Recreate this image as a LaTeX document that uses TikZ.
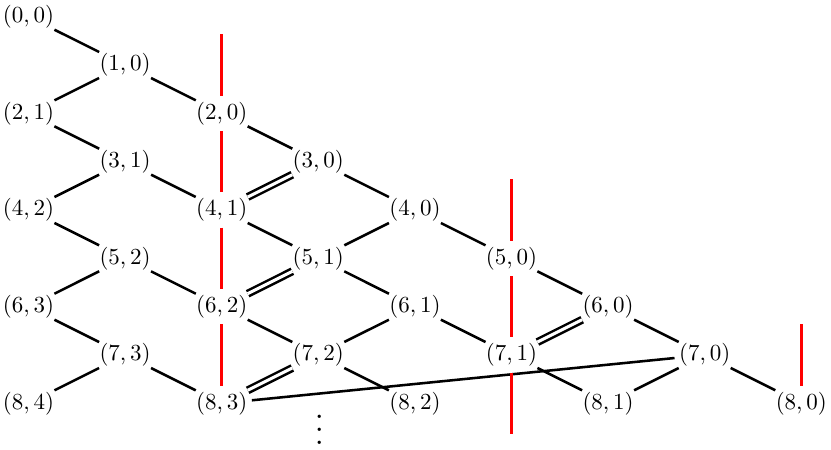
\documentclass[tikz,border=0pt]{standalone}
\begin{document}
\begin{tikzpicture}[x=0.4348pt,y=-0.4348pt,
  pt/.style={rectangle,inner xsep=1.8pt,inner ysep=0.45pt},
  ln/.style={line width=1.1pt},
  dbl/.style={line width=1.1pt,double,double distance=1.3pt},
  redln/.style={red,line width=1.1pt,shorten <=7.7pt,shorten >=7.7pt}]
\useasboundingbox (0,0) rectangle (831,449);
% nodes (n,k): column n-2k, row n
\node[pt] (n00) at (28.5,16.7) {$(0,0)$};
\node[pt] (n10) at (125.1,65.0) {$(1,0)$};
\node[pt] (n21) at (28.5,113.3) {$(2,1)$};
\node[pt] (n20) at (221.7,113.3) {$(2,0)$};
\node[pt] (n31) at (125.1,161.7) {$(3,1)$};
\node[pt] (n30) at (318.3,161.7) {$(3,0)$};
\node[pt] (n42) at (28.5,210.0) {$(4,2)$};
\node[pt] (n41) at (221.7,210.0) {$(4,1)$};
\node[pt] (n40) at (414.9,210.0) {$(4,0)$};
\node[pt] (n52) at (125.1,258.3) {$(5,2)$};
\node[pt] (n51) at (318.3,258.3) {$(5,1)$};
\node[pt] (n50) at (511.5,258.3) {$(5,0)$};
\node[pt] (n63) at (28.5,306.7) {$(6,3)$};
\node[pt] (n62) at (221.7,306.7) {$(6,2)$};
\node[pt] (n61) at (414.9,306.7) {$(6,1)$};
\node[pt] (n60) at (608.1,306.7) {$(6,0)$};
\node[pt] (n73) at (125.1,355.0) {$(7,3)$};
\node[pt] (n72) at (318.3,355.0) {$(7,2)$};
\node[pt] (n71) at (511.5,355.0) {$(7,1)$};
\node[pt] (n70) at (704.7,355.0) {$(7,0)$};
\node[pt] (n84) at (28.5,403.3) {$(8,4)$};
\node[pt] (n83) at (221.7,403.3) {$(8,3)$};
\node[pt] (n82) at (414.9,403.3) {$(8,2)$};
\node[pt] (n81) at (608.1,403.3) {$(8,1)$};
\node[pt] (n80) at (801.3,403.3) {$(8,0)$};
\node[anchor=south,scale=1.4,inner sep=0pt] (dots) at (319.3,444.7) {$\vdots$};
% red line ends
\coordinate (ra) at (221.7,16.7);
\coordinate (rb) at (511.5,161.7);
\coordinate (rc) at (511.5,451.7);
\coordinate (rd) at (801.3,306.7);
% single connectors
\draw[ln] (n00) -- (n10);
\draw[ln] (n10) -- (n21);
\draw[ln] (n10) -- (n20);
\draw[ln] (n21) -- (n31);
\draw[ln] (n20) -- (n30);
\draw[ln] (n31) -- (n42);
\draw[ln] (n31) -- (n41);
\draw[ln] (n30) -- (n40);
\draw[ln] (n42) -- (n52);
\draw[ln] (n41) -- (n51);
\draw[ln] (n40) -- (n51);
\draw[ln] (n40) -- (n50);
\draw[ln] (n52) -- (n63);
\draw[ln] (n52) -- (n62);
\draw[ln] (n51) -- (n61);
\draw[ln] (n50) -- (n60);
\draw[ln] (n63) -- (n73);
\draw[ln] (n62) -- (n72);
\draw[ln] (n61) -- (n72);
\draw[ln] (n61) -- (n71);
\draw[ln] (n60) -- (n70);
\draw[ln] (n73) -- (n84);
\draw[ln] (n73) -- (n83);
\draw[ln] (n72) -- (n82);
\draw[ln] (n71) -- (n81);
\draw[ln] (n70) -- (n81);
\draw[ln] (n70) -- (n80);
\draw[ln] (n83) -- (n70);
% double connectors
\draw[dbl] (n30) -- (n41);
\draw[dbl] (n51) -- (n62);
\draw[dbl] (n60) -- (n71);
\draw[dbl] (n72) -- (n83);
% red lines
\draw[redln] (ra) -- (n20.center);
\draw[redln] (n20.center) -- (n41.center);
\draw[redln] (n41.center) -- (n62.center);
\draw[redln] (n62.center) -- (n83.center);
\draw[redln] (rb) -- (n50.center);
\draw[redln] (n50.center) -- (n71.center);
\draw[redln] (n71.center) -- (rc);
\draw[redln] (rd) -- (n80.center);
\end{tikzpicture}
\end{document}
